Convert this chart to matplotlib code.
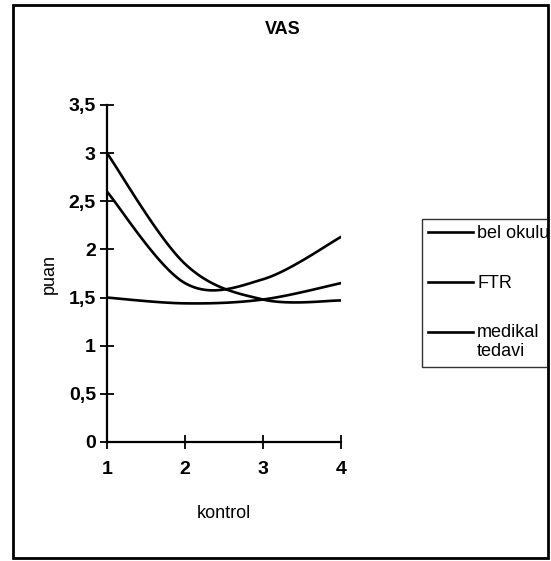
import matplotlib
matplotlib.use("Agg")
import matplotlib.pyplot as plt
import numpy as np
from matplotlib.patches import Rectangle
from matplotlib.legend_handler import HandlerLine2D
from matplotlib.transforms import Bbox, TransformedBbox

plt.rcParams['font.family'] = ['Liberation Sans', 'DejaVu Sans']

kontrol = [1, 2, 3, 4]
bel_okulu = [3.0, 1.85, 1.48, 1.47]
ftr = [2.6, 1.65, 1.69, 2.13]
medikal = [1.5, 1.44, 1.48, 1.65]
labels = ["bel okulu", "FTR", "medikal\ntedavi"]
yticks = [0, 0.5, 1, 1.5, 2, 2.5, 3, 3.5]
ytick_labels = ["0", "0,5", "1", "1,5", "2", "2,5", "3", "3,5"]


def smooth(x, y, n=40):
    x = np.asarray(x, float)
    y = np.asarray(y, float)
    px = np.concatenate([[x[0]], x, [x[-1]]])
    py = np.concatenate([[y[0]], y, [y[-1]]])
    xs, ys = [], []
    t = np.linspace(0, 1, n)
    for i in range(1, len(px) - 2):
        p0 = np.array([px[i], py[i]])
        p3 = np.array([px[i + 1], py[i + 1]])
        p1 = p0 + (np.array([px[i + 1], py[i + 1]]) - np.array([px[i - 1], py[i - 1]])) / 6
        p2 = p3 - (np.array([px[i + 2], py[i + 2]]) - np.array([px[i], py[i]])) / 6
        b = ((1 - t) ** 3)[:, None] * p0 + (3 * (1 - t) ** 2 * t)[:, None] * p1 \
            + (3 * (1 - t) * t ** 2)[:, None] * p2 + (t ** 3)[:, None] * p3
        xs.extend(b[:, 0])
        ys.extend(b[:, 1])
    return xs, ys


class ShiftedHandler(HandlerLine2D):
    def __init__(self, dy, **kw):
        super().__init__(**kw)
        self.dy = dy

    def create_artists(self, legend, orig_handle, xdescent, ydescent, width, height, fontsize, trans):
        arts = super().create_artists(legend, orig_handle, xdescent, ydescent, width, height, fontsize, trans)
        for a in arts:
            yd = np.asarray(a.get_ydata(), float)
            a.set_ydata(yd + self.dy * fontsize)
        return arts


fig = plt.figure(figsize=(5.51, 5.61), dpi=100)
ax = fig.add_axes([107 / 551, 1 - 442 / 561, (341 - 107) / 551, (442 - 105) / 561])

lines = []
for series, lab in zip([bel_okulu, ftr, medikal], labels):
    sx, sy = smooth(kontrol, series)
    ln, = ax.plot(sx, sy, color='black', lw=1.9, label=lab)
    lines.append(ln)

ax.set_xlim(1, 4)
ax.set_ylim(0, 3.5)
ax.set_xticks(kontrol)
ax.set_xticklabels([str(k) for k in kontrol], fontsize=14, fontweight='bold')
ax.set_yticks(yticks)
ax.set_yticklabels(ytick_labels, fontsize=14, fontweight='bold')
ax.tick_params(axis='both', direction='inout', length=10, width=1.3, color='black')
ax.tick_params(axis='x', pad=9)
ax.tick_params(axis='y', pad=3)
for s in ['top', 'right']:
    ax.spines[s].set_visible(False)
for s in ['left', 'bottom']:
    ax.spines[s].set_linewidth(1.6)
ax.set_xlabel("kontrol", fontsize=13)
ax.xaxis.set_label_coords(0.5, (442 - 513) / (442 - 105), transform=ax.transAxes)
ax.xaxis.label.set_va('center')
ax.set_ylabel("puan", fontsize=13)
ax.yaxis.set_label_coords((49 - 107) / (341 - 107), 0.5, transform=ax.transAxes)
ax.yaxis.label.set_va('center')
fig.text(283 / 551, 1 - 30 / 561, "VAS", fontsize=13, fontweight='bold', ha='center', va='center')

leg = fig.legend(handles=lines, loc='upper left', bbox_to_anchor=(422 / 551, 1 - 219 / 561),
                 frameon=True, fancybox=False, fontsize=13, handlelength=2.5,
                 handletextpad=0.2, labelspacing=1.8, borderpad=0.35, borderaxespad=0,
                 handler_map={lines[2]: ShiftedHandler(0.6)})
leg.get_frame().set_edgecolor('black')
leg.get_frame().set_linewidth(1.0)
clip = TransformedBbox(Bbox([[0, 0], [547 / 551, 1]]), fig.transFigure)
leg.get_frame().set_clip_box(clip)
for t in leg.get_texts():
    t.set_linespacing(1.15)

fig.patches.append(Rectangle((13 / 551, 1 - 558 / 561), (548 - 13) / 551, (558 - 5) / 561,
                             transform=fig.transFigure, fill=False, edgecolor='black', lw=2))

fig.savefig("out.png", dpi=100)
